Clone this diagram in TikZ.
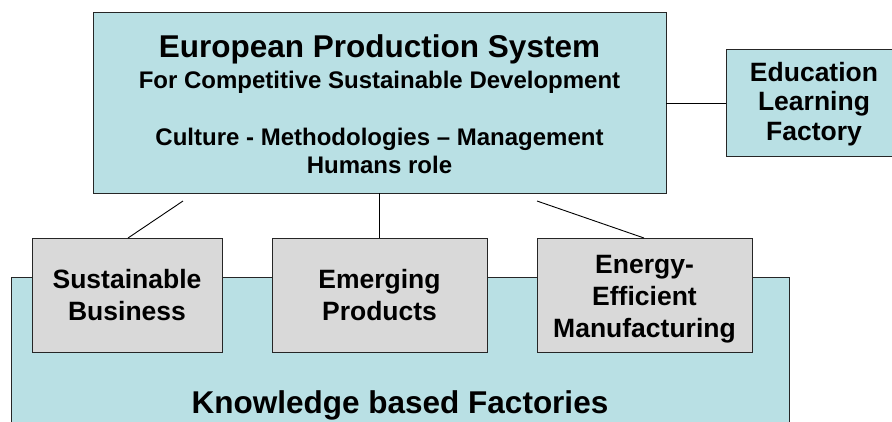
\documentclass[tikz,border=0pt]{standalone}
\usepackage{fontspec}
\setmainfont{Liberation Sans}
\definecolor{boxblue}{RGB}{185,224,228}
\definecolor{boxgray}{RGB}{217,217,217}
\begin{document}
\begin{tikzpicture}[x=1pt,y=-1pt,
  shp/.style={draw=black!85,line width=1pt,inner sep=0pt,outer sep=0pt,anchor=north west},
  bluebox/.style={shp,fill=boxblue},
  graybox/.style={shp,fill=boxgray},
  conn/.style={draw=black,line width=0.9pt},
  txt/.style={inner sep=0pt,anchor=base},
  big/.style={txt,font=\fontsize{31.5}{36}\bfseries\selectfont},
  mid/.style={txt,font=\fontsize{24}{28}\bfseries\selectfont},
  lbl/.style={txt,font=\fontsize{26.5}{31}\bfseries\selectfont}]
\clip (0,0) rectangle (892,421);
% boxes
\node[bluebox,minimum width=778pt,minimum height=160pt] (kbf) at (11,277) {};
\node[bluebox,minimum width=573pt,minimum height=181pt] (eps) at (93,12) {};
\node[bluebox,minimum width=180pt,minimum height=107pt] (edu) at (726,49) {};
\node[graybox,minimum width=190pt,minimum height=114pt] (sb) at (32,238) {};
\node[graybox,minimum width=215pt,minimum height=114pt] (ep) at (272,238) {};
\node[graybox,minimum width=215pt,minimum height=114pt] (eem) at (537,238) {};
% connectors
\coordinate (c1) at (183,201);
\coordinate (c3) at (537,201);
\draw[conn] (eps.east |- 0,103) -- (edu.west |- 0,103);
\draw[conn] (c1) -- (sb.north -| 128,0);
\draw[conn] (eps.south -| 379.5,0) -- (ep.north -| 379.5,0);
\draw[conn] (c3) -- (eem.north -| 644,0);
% texts
\node[big] (t1) at (379.5,57) {European Production System};
\node[mid] (t2) at (379.5,88) {For Competitive Sustainable Development};
\node[mid] (t3) at (379.5,145) {Culture - Methodologies – Management};
\node[mid] (t4) at (379.5,173) {Humans role};
\node[lbl] (e1) at (814,81) {Education};
\node[lbl] (e2) at (814,110.5) {Learning};
\node[lbl] (e3) at (814,140) {Factory};
\node[lbl] (s1) at (127,288) {Sustainable};
\node[lbl] (s2) at (127,320) {Business};
\node[lbl] (p1) at (379.5,288) {Emerging};
\node[lbl] (p2) at (379.5,320) {Products};
\node[lbl] (m1) at (644.5,273) {Energy-};
\node[lbl] (m2) at (644.5,305) {Efficient};
\node[lbl] (m3) at (644.5,337) {Manufacturing};
\node[big] (k1) at (400,413) {Knowledge based Factories};
\end{tikzpicture}
\end{document}
